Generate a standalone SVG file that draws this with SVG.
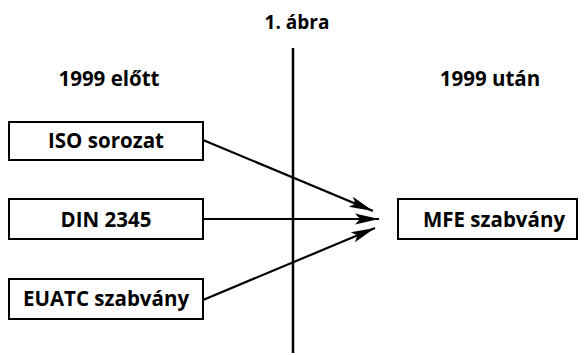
<svg xmlns="http://www.w3.org/2000/svg" width="585" height="355" viewBox="0 0 585 355">
<style>
text{font-family:"Open Sans","Liberation Sans",sans-serif;font-weight:bold;font-size:20.5px;fill:#000;text-anchor:middle}
.title{font-size:19px}
.box{fill:#fff;stroke:#000;stroke-width:2}
.con{stroke:#000;stroke-width:2.2;fill:none;marker-end:url(#ah)}
</style>
<defs>
<marker id="ah" markerUnits="userSpaceOnUse" markerWidth="26" markerHeight="14" viewBox="0 0 26 14" refX="24" refY="7" orient="auto">
<path d="M0,1.5 L24,7 L0,12.5 L5,7 Z" fill="#000"/>
</marker>
</defs>
<rect width="585" height="355" fill="#fff"/>
<text class="title" x="297" y="29">1. ábra</text>
<text x="109" y="86">1999 előtt</text>
<text x="490" y="86">1999 után</text>
<line x1="293" y1="48" x2="293" y2="353" stroke="#000" stroke-width="2.5"/>
<g id="connectors">
<line class="con" x1="203" y1="140" x2="373" y2="211"/>
<line class="con" x1="203" y1="219" x2="379" y2="219"/>
<line class="con" x1="203" y1="300" x2="375" y2="228"/>
</g>
<g id="iso"><rect class="box" x="9" y="122" width="194" height="38"/><text x="106" y="148">ISO sorozat</text></g>
<g id="din"><rect class="box" x="9" y="199" width="194" height="40"/><text x="106" y="227">DIN 2345</text></g>
<g id="euatc"><rect class="box" x="9" y="279" width="194" height="40"/><text x="106" y="306">EUATC szabvány</text></g>
<g id="mfe"><rect class="box" x="398" y="199" width="179" height="40"/><text x="494" y="227">MFE szabvány</text></g>
</svg>
